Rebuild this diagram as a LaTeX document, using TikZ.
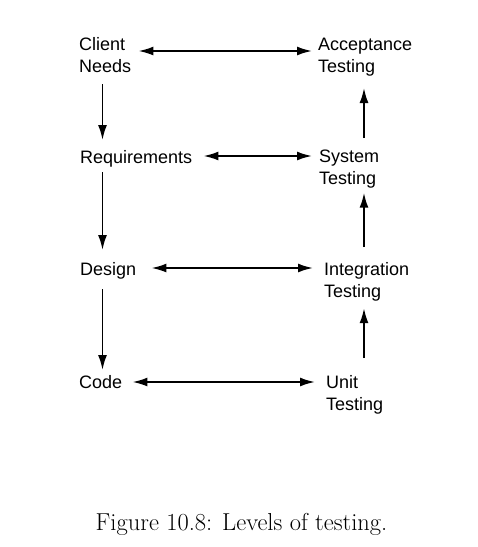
\documentclass[tikz,border=0pt]{standalone}
\usepackage{fontspec}
\newfontfamily\labelfont{Liberation Sans}
\usetikzlibrary{arrows.meta}

\begin{document}
\begin{tikzpicture}[x=1pt,y=-1pt,
  lbl/.style={font=\labelfont\fontsize{18}{22}\selectfont, inner sep=0pt, anchor=north west, align=left},
  arr/.style={line width=1.9pt, -{Latex[length=15pt,width=9pt]}},
  darr/.style={line width=1.9pt, {Latex[length=15pt,width=9pt]}-{Latex[length=15pt,width=9pt]}}]
\useasboundingbox (0,0) rectangle (478,547);
% left column
\node[lbl] (client) at (79,37.5) {Client\\Needs};
\node[lbl] (req) at (80,150) {Requirements};
\node[lbl] (design) at (80,262) {Design};
\node[lbl] (code) at (79,375) {Code};
% right column
\node[lbl] (accept) at (318,37.5) {Acceptance\\Testing};
\node[lbl] (system) at (319,150) {System\\Testing};
\node[lbl] (integ) at (324,262) {Integration\\Testing};
\node[lbl] (unit) at (326,375) {Unit\\Testing};
% across
\draw[darr] ([xshift=7pt,yshift=-13.5pt]client.north east) -- ([xshift=-6pt,yshift=-13.5pt]accept.north west);
\draw[darr] ([xshift=11pt,yshift=-6pt]req.north east) -- ([xshift=-7pt,yshift=-6pt]system.north west);
\draw[darr] ([xshift=15pt,yshift=-6pt]design.north east) -- ([xshift=-11pt,yshift=-6pt]integ.north west);
\draw[darr] ([xshift=10pt,yshift=-7pt]code.north east) -- ([xshift=-11pt,yshift=-7pt]unit.north west);
% down the left
\draw[arr] ([xshift=23.5pt,yshift=-11pt]client.south west) -- ([xshift=22.5pt,yshift=10pt]req.north west);
\draw[arr] ([xshift=22.5pt,yshift=-5pt]req.south west) -- ([xshift=22.5pt,yshift=12pt]design.north west);
\draw[arr] ([xshift=22.5pt,yshift=-10pt]design.south west) -- ([xshift=23.5pt,yshift=5pt]code.north west);
% up the right
\draw[arr] ([xshift=38pt,yshift=17pt]unit.north west) -- ([xshift=40pt,yshift=-7pt]integ.south west);
\draw[arr] ([xshift=40pt,yshift=15pt]integ.north west) -- ([xshift=45pt,yshift=-4pt]system.south west);
\draw[arr] ([xshift=45pt,yshift=12pt]system.north west) -- ([xshift=46pt,yshift=-12pt]accept.south west);
\node[font=\fontsize{24.5}{29}\selectfont, inner sep=0pt, anchor=base] (caption) at (241.5,530) {Figure 10.8: Levels of testing.};
\end{tikzpicture}
\end{document}
